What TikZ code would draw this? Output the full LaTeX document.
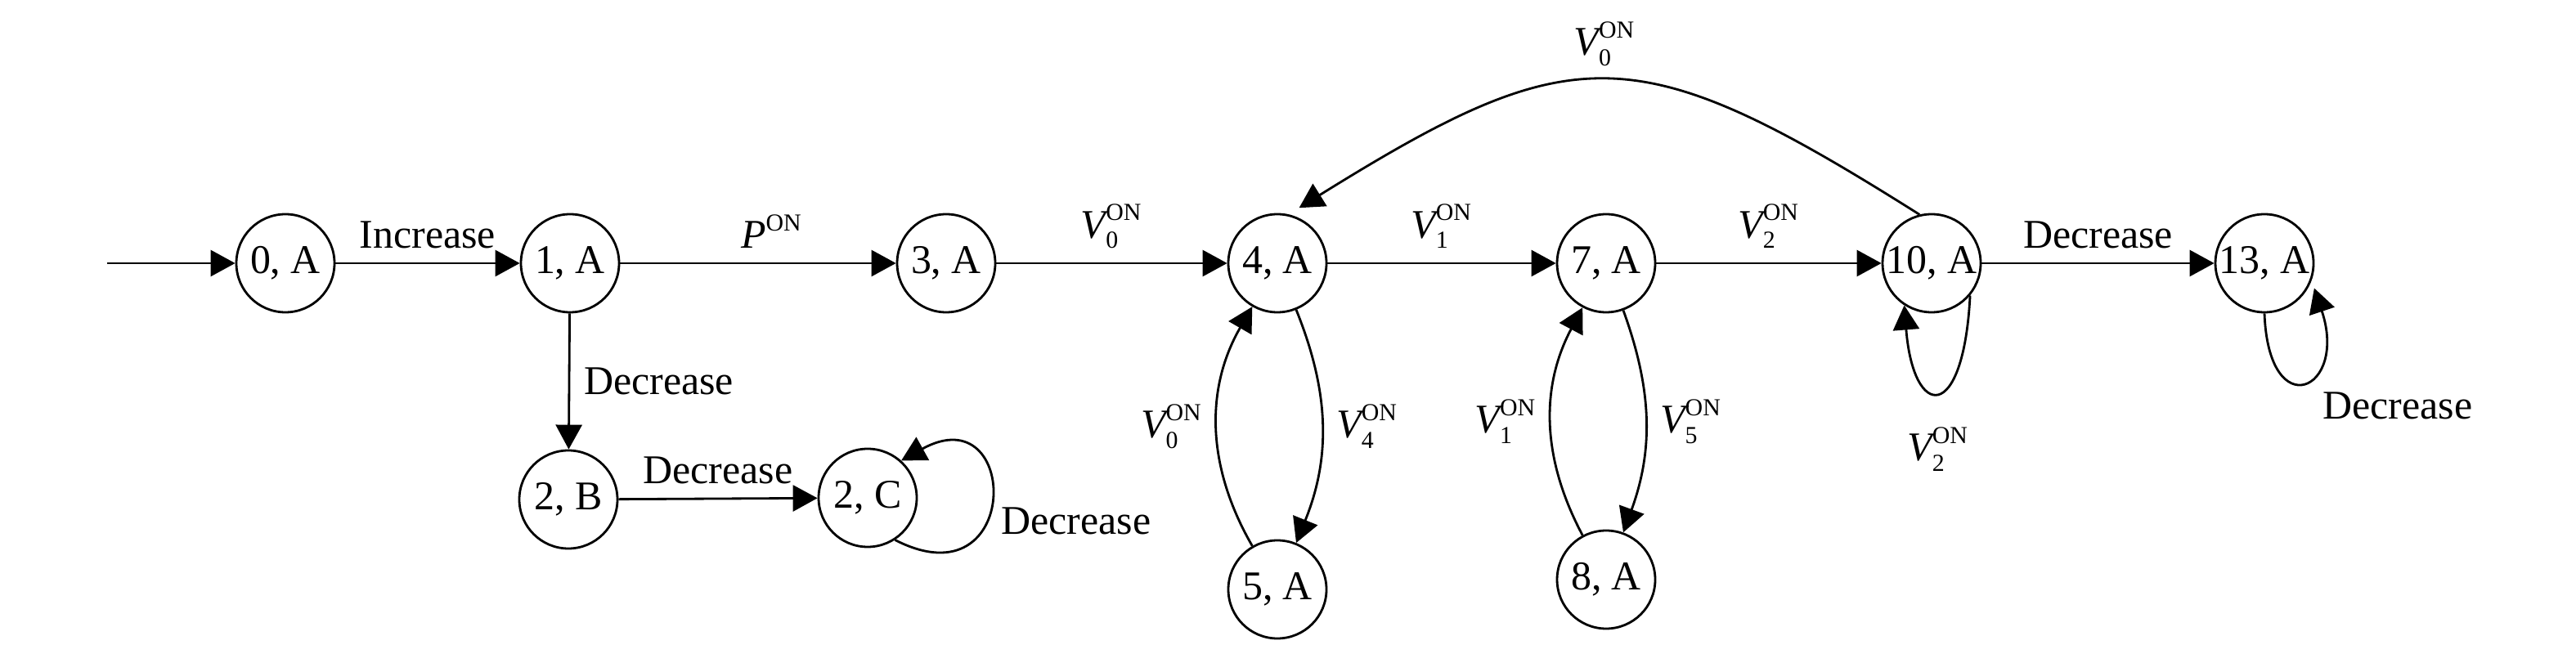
\documentclass[tikz,border=0pt]{standalone}
\usepackage{amsmath}
\usepackage{fontspec}
\setmainfont{Liberation Serif}
\DeclareMathSizes{14.2}{14.2}{8.5}{7}
\usetikzlibrary{arrows.meta}

\newcommand{\von}[1]{$\textit{V}^{\textrm{ON}}_{\textrm{#1}}$}

\begin{document}
\begin{tikzpicture}[>={Triangle[length=3mm,width=3.2mm]},line width=0.8pt,
    state/.style={circle,draw,minimum size=1.2cm,inner sep=0pt}]
    \fontsize{14.2}{17}\selectfont
    \useasboundingbox (0,0) rectangle (31.5,-7.89);
    \coordinate (init) at (1.31,-3.22);
    \node[state] (n0A) at (3.49,-3.22) {0, A};
    \node[state] (n1A) at (6.97,-3.22) {1, A};
    \node[state] (n2B) at (6.95,-6.11) {2, B};
    \node[state] (n2C) at (10.61,-6.09) {2, C};
    \node[state] (n3A) at (11.57,-3.22) {3, A};
    \node[state] (n4A) at (15.62,-3.22) {4, A};
    \node[state] (n5A) at (15.62,-7.21) {5, A};
    \node[state] (n7A) at (19.64,-3.22) {7, A};
    \node[state] (n8A) at (19.64,-7.09) {8, A};
    \node[state] (n10A) at (23.62,-3.22) {10, A};
    \node[state] (n13A) at (27.69,-3.22) {13, A};
    \draw[->] (init) -- (n0A);
    \draw[->] (n0A) -- node[above] {Increase} (n1A);
    \draw[->] (n1A) -- node[pos=0.55,above] {$\textit{P}^{\textrm{ON}}$} (n3A);
    \draw[->] (n3A) -- node[above] {\von{0}} (n4A);
    \draw[->] (n4A) -- node[above] {\von{1}} (n7A);
    \draw[->] (n7A) -- node[above] {\von{2}} (n10A);
    \draw[->] (n10A) -- node[above] {Decrease} (n13A);
    \draw[->] (n1A) -- node[right] {Decrease} (n2B);
    \draw[->] (n2B) -- node[above] {Decrease} (n2C);
    \draw[->] (n2C.-57) .. controls +(1.56,-0.80) and +(1.46,0.81) ..
      node[pos=0.4,right] {Decrease} (n2C.48);
    \draw[->] (n5A) to[bend left=30] node[left] {\von{0}} (n4A);
    \draw[->] (n4A) to[bend left=22] node[right] {\von{4}} (n5A);
    \draw[->] (n8A) to[bend left=28] node[left] {\von{1}} (n7A);
    \draw[->] (n7A) to[bend left=20] node[right] {\von{5}} (n8A);
    \draw[->,shorten >=1.5mm] (n10A.104) .. controls +(-3.47,2.19) and +(3.49,2.17) ..
      node[above] {\von{0}} (n4A.77);
    \draw[->] (n10A.-40) .. controls +(-0.08,-1.58) and +(0.11,-1.40) ..
      node[below=2.5mm] {\von{2}} (n10A.237);
    \draw[->,shorten >=1mm] (n13A.-90) .. controls +(0.05,-1.38) and +(0.45,-1.35) ..
      node[pos=0.55,below right] {Decrease} (n13A.-20);
  \end{tikzpicture}
\end{document}
